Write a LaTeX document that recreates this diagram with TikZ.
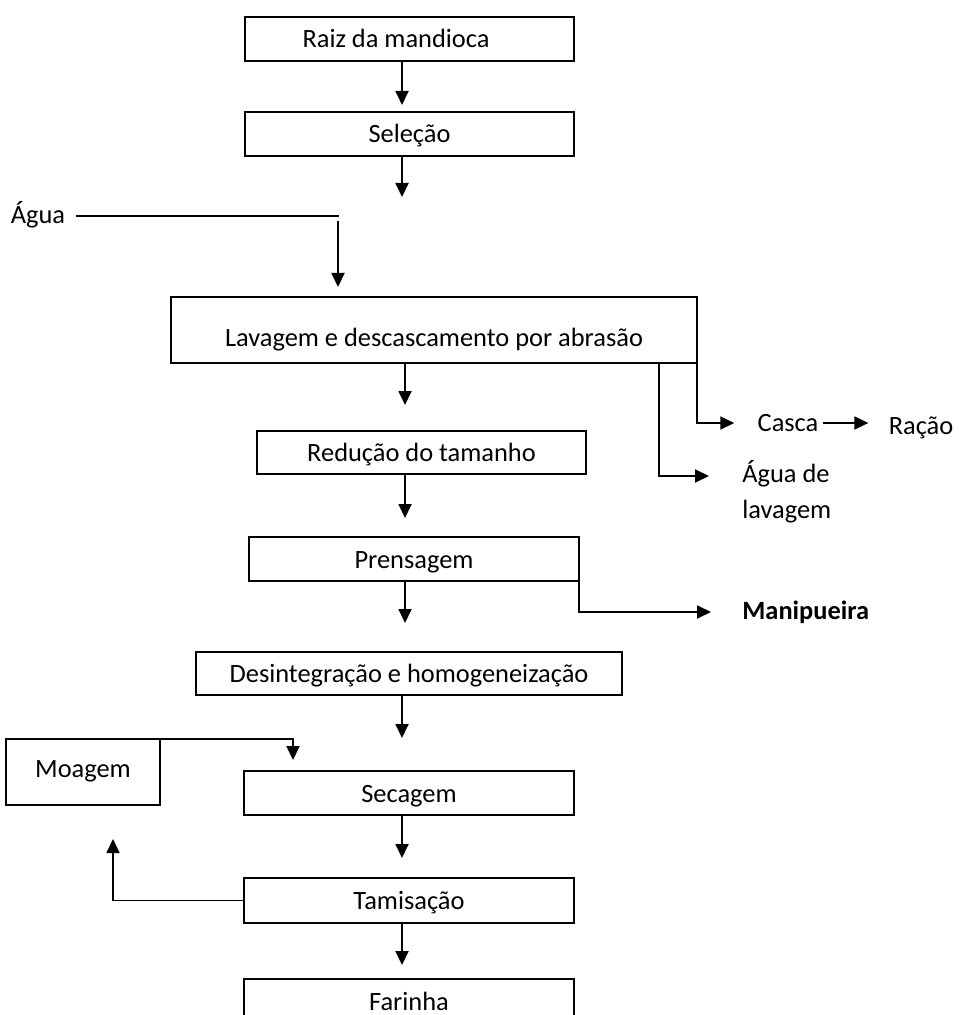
\documentclass[tikz,border=0pt]{standalone}
\usepackage{fontspec}
\setmainfont{Carlito}
\usetikzlibrary{arrows.meta,positioning,calc}

\begin{document}
\begin{tikzpicture}[x=0.5pt, y=-0.5pt,
  every node/.style={font=\fontsize{13.2}{15.8}\selectfont},
  etapa/.style={draw, line width=0.9pt, inner sep=0pt, outer sep=0pt, minimum height=22pt, text height=12pt, text depth=3pt},
  seta/.style={-{Triangle[length=7pt,width=6.5pt]}, line width=0.9pt},
  linha/.style={line width=0.9pt}]
\useasboundingbox (0,0) rectangle (958,1015);
\clip (0,0) rectangle (958,1015);

\node[etapa, minimum width=164.5pt] (raiz) at (409.5,39) {Raiz da mandioca\kern13.5pt};
\node[etapa, minimum width=164.5pt] (selecao) at (409.5,134) {Seleção};
\node[etapa, minimum width=263pt, minimum height=33pt, text height=20pt, text depth=3pt] (lavagem) at (434,330) {Lavagem e descascamento por abrasão};
\node[etapa, minimum width=164.5pt, minimum height=21.5pt] (reducao) at (421.5,452.5) {Redução do tamanho};
\node[etapa, minimum width=165pt] (prensagem) at (414,559) {Prensagem};
\node[etapa, minimum width=213pt, minimum height=21.5pt] (desint) at (409,673.5) {Desintegração e homogeneização};
\node[etapa, minimum width=77pt, minimum height=33pt, text height=8pt, text depth=3pt] (moagem) at (83,772) {Moagem};
\node[etapa, minimum width=165pt] (secagem) at (409,793) {Secagem};
\node[etapa, minimum width=165pt, minimum height=22.5pt] (tamisacao) at (409,900.5) {Tamisação};
\node[etapa, minimum width=165pt] (farinha) at (409,1001) {Farinha};

\node[inner sep=0pt] (agua) at (38,215) {Água};
\node[inner sep=0pt] (casca) at (788,423) {Casca};
\node[inner sep=0pt] (racao) at (921,428) {Ração};
\node[inner sep=0pt, align=left, anchor=north west, font=\fontsize{13.2}{18}\selectfont] (agualav) at (742,460) {Água de\\lavagem};
\node[inner sep=0pt, anchor=west, font=\bfseries\fontsize{13.2}{15.8}\selectfont] (manip) at (742,612) {Manipueira};

\coordinate (colA) at (402,0);
\coordinate (colB) at (405,0);
\coordinate (selsai) at (402,197);
\coordinate (aguacanto) at (339,216);
\coordinate (aguadesce) at (338,221);
\coordinate (lavsai) at (659,476);
\coordinate (retorno) at (293,0);
\coordinate (volta) at (113,0);

\draw[seta, shorten >=3.5pt] (raiz.south -| colA) -- (selecao.north -| colA);
\draw[seta] (selecao.south -| colA) -- (selsai);
\draw[linha, shorten <=5pt] (agua.east |- aguacanto) -- (aguacanto);
\draw[seta, shorten >=5pt] (aguadesce) -- (lavagem.north -| aguadesce);
\draw[seta, shorten >=13pt] (lavagem.south -| colB) -- (reducao.north -| colB);
\draw[seta, shorten >=16.5pt] (lavagem.south -| lavsai) |- (lavsai -| agualav.west);
\draw[seta, shorten >=11.5pt] (lavagem.south east) |- (casca.west);
\draw[seta, shorten <=2pt, shorten >=10pt] (casca.east) -- (casca.east -| racao.west);
\draw[seta, shorten >=9.5pt] (reducao.south -| colB) -- (prensagem.north -| colB);
\draw[seta, shorten >=14.5pt] (prensagem.south -| colB) -- (desint.north -| colB);
\draw[seta, shorten >=15.5pt] (prensagem.south east) |- (manip.west);
\draw[seta, shorten >=16.5pt] (desint.south -| colA) -- (secagem.north -| colA);
\draw[seta, shorten >=5.5pt] (moagem.north east) -| (secagem.north -| retorno);
\draw[seta, shorten >=10pt] (secagem.south -| colA) -- (tamisacao.north -| colA);
\draw[seta, shorten >=17pt] (tamisacao.west) -| (moagem.south -| volta);
\draw[seta, shorten >=7pt] (tamisacao.south -| colA) -- (farinha.north -| colA);
\end{tikzpicture}
\end{document}
